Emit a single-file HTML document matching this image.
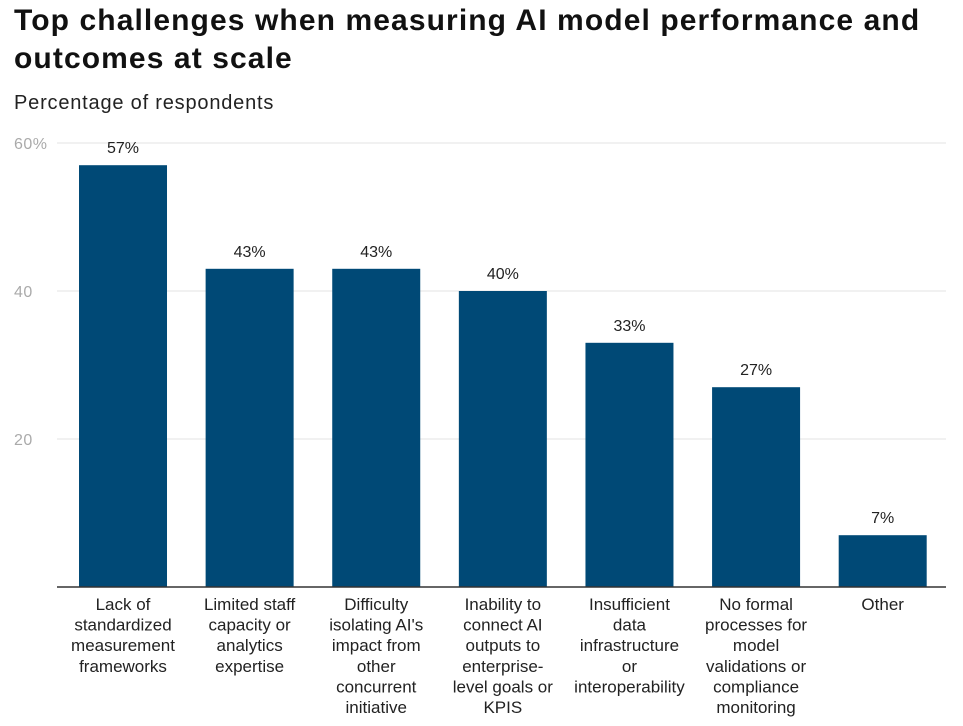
<!DOCTYPE html>
<html><head><meta charset="utf-8"><style>
body{margin:0;background:#fff;font-family:"Liberation Sans",sans-serif;}
#wrap{position:relative;width:963px;height:726px;overflow:hidden;}
h1{position:absolute;left:14px;top:2px;margin:0;font-size:30px;line-height:38px;font-weight:bold;color:#111;width:945px;letter-spacing:1.1px}
#sub{position:absolute;left:14px;top:92px;font-size:20px;color:#222;letter-spacing:0.8px}
</style></head><body>
<div id="wrap">
<h1>Top challenges when measuring AI model performance and outcomes at scale</h1>
<div id="sub">Percentage of respondents</div>
<svg id="chart" width="963" height="726" style="position:absolute;left:0;top:0"></svg>
</div>
<script>
const categories=[["Lack of","standardized","measurement","frameworks"],["Limited staff","capacity or","analytics","expertise"],["Difficulty","isolating AI's","impact from","other","concurrent","initiative"],["Inability to","connect AI","outputs to","enterprise-","level goals or","KPIS"],["Insufficient","data","infrastructure","or","interoperability"],["No formal","processes for","model","validations or","compliance","monitoring"],["Other"]];
const values=[57,43,43,40,33,27,7];
const ticks=[20,40,60];
const tickLabels=["20","40","60%"];
const NS="http://www.w3.org/2000/svg";
const svg=document.getElementById('chart');
const x0=59.7,x1=946,y0=587,yTop=143,yMax=60;
const band=(x1-x0)/categories.length,bw=88;
function y(v){return y0-(v/yMax)*(y0-yTop);}
function xc(i){return x0+band*(i+0.5);}
function mk(t,a,txt){const e=document.createElementNS(NS,t);for(const k in a)e.setAttribute(k,a[k]);if(txt!==undefined)e.textContent=txt;svg.appendChild(e);return e;}
ticks.forEach((t,i)=>{
 const l=mk('line',{x1:57,x2:946,y1:y(t),y2:y(t),stroke:'#e3e3e3','stroke-width':1});
 
 
 const tx=mk('text',{x:14,y:y(t)+6,'font-size':16,fill:'#aaa','letter-spacing':0.5,'font-family':'Liberation Sans, sans-serif'},tickLabels[i]);
 
 
});
values.forEach((v,i)=>{
 const r=mk('rect',{x:xc(i)-bw/2,y:y(v),width:bw,height:y0-y(v),fill:'#004976'});
 
 
 const t=mk('text',{x:xc(i),y:y(v)-12,'text-anchor':'middle','font-size':16,fill:'#222','font-family':'Liberation Sans, sans-serif'},v+'%');
 
 
 categories[i].forEach((ln,j)=>{
  const c=mk('text',{x:xc(i),y:610+j*20.6,'text-anchor':'middle','font-size':17,fill:'#222','font-family':'Liberation Sans, sans-serif'},ln);
  
  
 });
});
const ax=mk('line',{x1:57,x2:946,y1:y0,y2:y0,stroke:'#333','stroke-width':1.5});


</script>
</body></html>
